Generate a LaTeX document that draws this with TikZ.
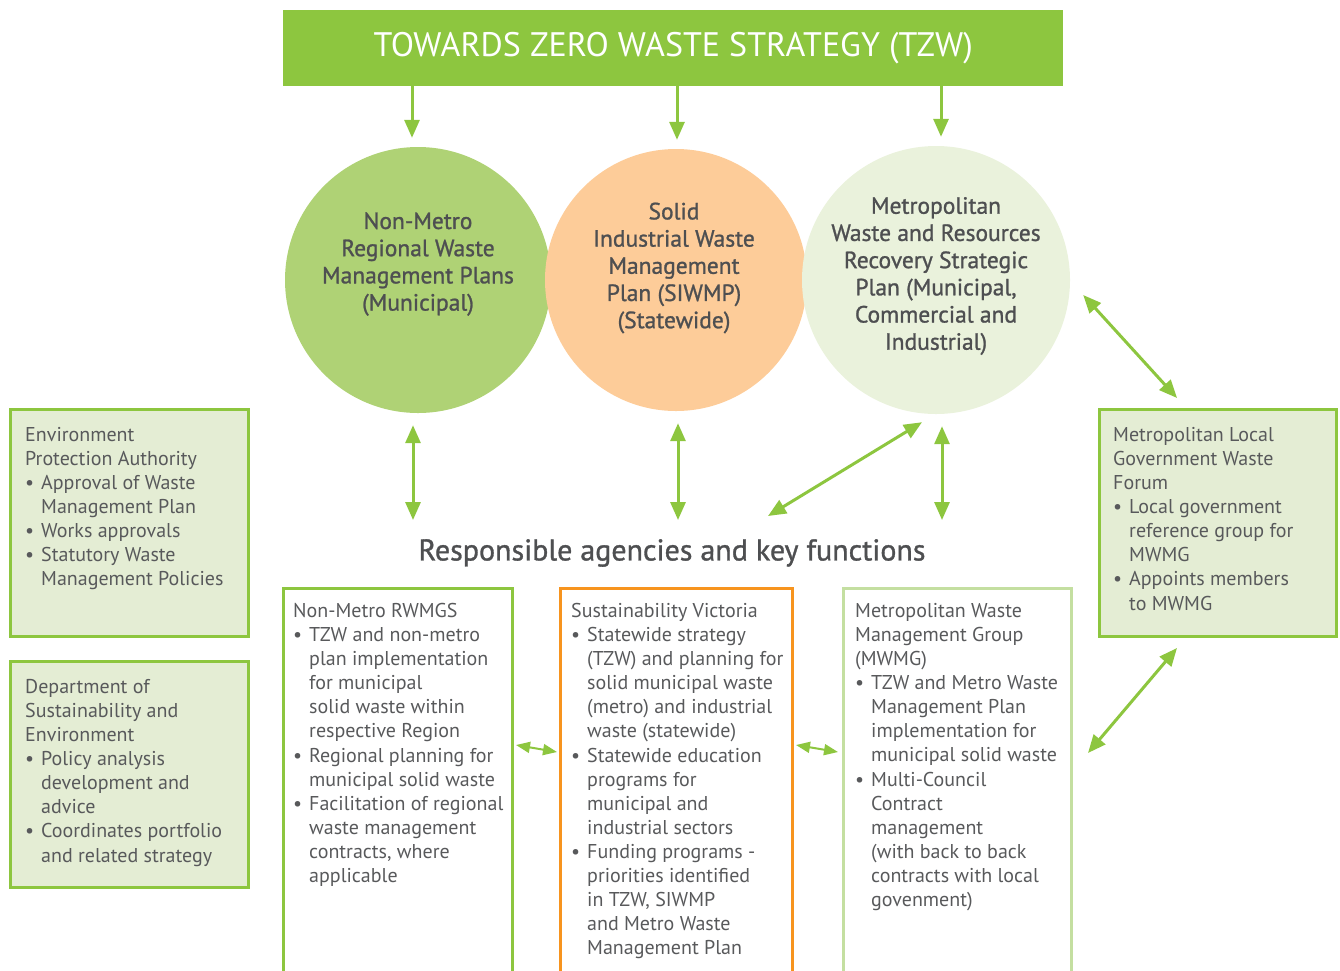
\documentclass[tikz,border=0pt]{standalone}
\usepackage{fontspec}
\setmainfont{PT Sans}
\newfontfamily\medfont[FakeBold=1.1]{PT Sans}
\usetikzlibrary{arrows.meta}

\definecolor{tzwgreen}{HTML}{8DC63F}
\definecolor{planone}{HTML}{AFD275}
\definecolor{plantwo}{HTML}{FDCC99}
\definecolor{planthree}{HTML}{EAF2DC}
\definecolor{sidefill}{HTML}{E4EDD4}
\definecolor{svorange}{HTML}{F7941E}
\definecolor{mwmgline}{HTML}{C4DFA1}
\definecolor{txtgray}{HTML}{58595B}
\definecolor{plangray}{HTML}{4E4F51}

% bullet and hanging indent for the agency lists
\newcommand{\bl}{\makebox[16pt][l]{\textbullet}}
\newcommand{\ind}{\hspace*{16pt}}

\begin{document}
\begin{tikzpicture}[x=1pt, y=-1pt,
    arr/.style={draw=tzwgreen, line width=3pt, -{Triangle[length=18pt,width=15pt]}},
    darr/.style={draw=tzwgreen, line width=3pt, {Triangle[length=18pt,width=15pt]}-{Triangle[length=18pt,width=15pt]}},
    sarr/.style={draw=tzwgreen, line width=2pt, {Triangle[length=14pt,width=11pt]}-{Triangle[length=14pt,width=11pt]}},
    plan/.style={circle, minimum size=266pt, inner sep=0pt},
    plantext/.style={align=center, inner sep=0pt, text=plangray, font=\medfont\fontsize{23.5}{27.2}\selectfont},
    side/.style={draw=tzwgreen, line width=3pt, fill=sidefill, anchor=north west, inner sep=0pt},
    column/.style={line width=3pt, anchor=north west, inner sep=0pt, minimum height=420pt},
    body/.style={align=left, anchor=north west, inner sep=0pt, text=txtgray,
        font=\fontsize{20}{24.1}\selectfont, execute at begin node=\strut}
]
    \useasboundingbox (0,0) rectangle (1340,970);

    % Strategy banner
    \node[fill=tzwgreen, minimum width=780pt, minimum height=76pt, anchor=north west, inner sep=0pt,
          text=white, font=\fontsize{34}{34}\selectfont] (banner) at (283,10) {TOWARDS ZERO WASTE STRATEGY (TZW)};

    % Plans
    \node[plan, fill=planone] (c1) at (418,280) {};
    \node[plan, fill=plantwo, minimum size=262pt] (c2) at (676,280) {};
    \node[plan, fill=planthree, minimum size=268pt] (c3) at (936,280) {};
    \node[plantext] (c1t) at (418,264) {Non-Metro\\Regional Waste\\Management Plans\\(Municipal)};
    \node[plantext] (c2t) at (674,268) {Solid\\Industrial Waste\\Management\\Plan (SIWMP)\\(Statewide)};
    \node[plantext] (c3t) at (936,276) {Metropolitan\\Waste and Resources\\Recovery Strategic\\Plan (Municipal,\\Commercial and\\Industrial)};

    \foreach \c/\dx in {c1/-6pt, c2/1pt, c3/5pt} {
        \draw[arr] ([xshift=\dx]banner.south -| \c.north) -- ([xshift=\dx, yshift=9pt]\c.north);
    }

    % Agencies heading
    \node[inner sep=0pt, text=plangray, font=\medfont\fontsize{30}{30}\selectfont] (heading) at (672,553) {Responsible agencies and key functions};
    \coordinate (hx) at ([yshift=19pt]heading.north);

    \foreach \c/\dx in {c1/-5pt, c2/2pt, c3/6pt} {
        \draw[darr] ([xshift=\dx, yshift=-12pt]\c.south) -- ([xshift=\dx]\c.south |- hx);
    }
    \draw[darr] ([shift={(-14,8)}]c3.south) -- ([shift={(96,-23)}]heading.north);

    % Side agencies
    \node[side, minimum width=238pt, minimum height=227pt] (epa) at (9,408) {};
    \node[side, minimum width=238pt, minimum height=226pt] (dse) at (9,660) {};
    \node[side, minimum width=237pt, minimum height=227pt] (forum) at (1098,408) {};

    \node[body] (epat) at (25,427) {Environment\\Protection Authority\\
        \bl Approval of Waste\\\ind Management Plan\\
        \bl Works approvals\\
        \bl Statutory Waste\\\ind Management Policies};
    \node[body] (dset) at (25,679) {Department of\\Sustainability and\\Environment\\
        \bl Policy analysis\\\ind development and\\\ind advice\\
        \bl Coordinates portfolio\\\ind and related strategy};
    \node[body] (forumt) at (1113,427) {Metropolitan Local\\Government Waste\\Forum\\
        \bl Local government\\\ind reference group for\\\ind MWMG\\
        \bl Appoints members\\\ind to MWMG};

    % Agency columns
    \node[column, draw=tzwgreen, minimum width=229pt] (rwmg) at (282,587) {};
    \node[column, draw=svorange, minimum width=232pt] (sv) at (559,587) {};
    \node[column, draw=mwmgline, minimum width=228pt] (mwmg) at (842,587) {};

    \node[body] (rwmgt) at (293,603) {Non-Metro RWMGS\\
        \bl TZW and non-metro\\\ind plan implementation\\\ind for municipal\\\ind solid waste within\\\ind respective Region\\
        \bl Regional planning for\\\ind municipal solid waste\\
        \bl Facilitation of regional\\\ind waste management\\\ind contracts, where\\\ind applicable};
    \node[body] (svt) at (571,603) {Sustainability Victoria\\
        \bl Statewide strategy\\\ind (TZW) and planning for\\\ind solid municipal waste\\\ind (metro) and industrial\\\ind waste (statewide)\\
        \bl Statewide education\\\ind programs for\\\ind municipal and\\\ind industrial sectors\\
        \bl Funding programs -\\\ind priorities identified\\\ind in TZW, SIWMP\\\ind and Metro Waste\\\ind Management Plan};
    \node[body] (mwmgt) at (855,603) {Metropolitan Waste\\Management Group\\(MWMG)\\
        \bl TZW and Metro Waste\\\ind Management Plan\\\ind implementation for\\\ind municipal solid waste\\
        \bl Multi-Council\\\ind Contract\\\ind management\\\ind (with back to back\\\ind contracts with local\\\ind govenment)};

    % Links between agencies
    \draw[darr] ([shift={(13,15)}]c3.east) -- ([shift={(-41,-10)}]forum.north);
    \draw[darr] ([shift={(-41,10)}]forum.south) -- ([shift={(15,166)}]mwmg.north east);
    \draw[sarr] ([shift={(2,158)}]rwmg.north east) -- ([shift={(-2,165)}]sv.north west);
    \draw[sarr] ([shift={(2,158)}]sv.north east) -- ([shift={(-4,165)}]mwmg.north west);
\end{tikzpicture}
\end{document}
